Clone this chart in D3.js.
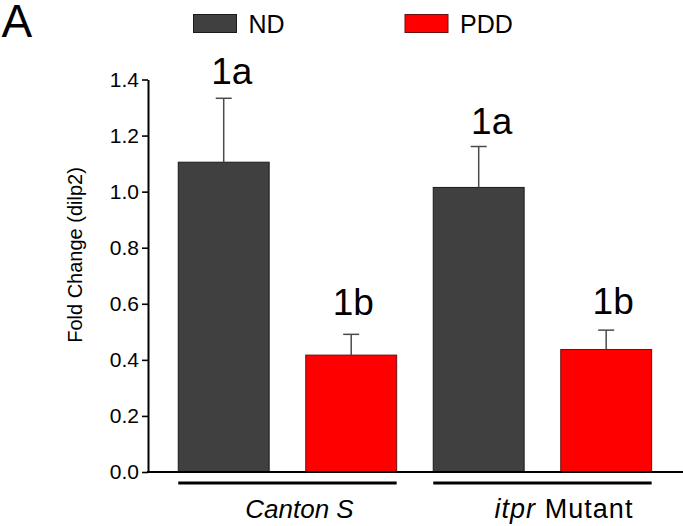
<!DOCTYPE html>
<html><head><meta charset="utf-8">
<script src="https://cdn.jsdelivr.net/npm/d3@7"></script>
<style>
html,body{margin:0;padding:0;background:#fff;}
svg{display:block;font-family:"Liberation Sans",Arial,sans-serif;}
</style></head>
<body>
<svg id="chart" width="683" height="526"></svg>
<script>
// ---- data ----
const groups = ["Canton S", "itpr Mutant"];
const series = ["ND", "PDD"];
const means = [1.105, 0.417, 1.015, 0.437];     // Canton S ND, Canton S PDD, itpr ND, itpr PDD
const errors = [0.228, 0.074, 0.146, 0.069];
const letters = ["1a", "1b", "1a", "1b"];
const yTicks = [0.0, 0.2, 0.4, 0.6, 0.8, 1.0, 1.2, 1.4];
const yTitle = "Fold Change (dilp2)";
const panel = "A";

// ---- styles ----
const colors = {ND: "#404040", PDD: "#ff0000"};
const strokes = {ND: "#1a1a1a", PDD: "#6b1010"};
const letterDx = [8, 2, 13, 7];
const letterDy = [-14, -19, -13, -16];
const groupLabelDx = [12, 21];
const groupLabelLen = [null, 138];

const svg = d3.select("#chart");
const keys = [];
groups.forEach((g, gi) => series.forEach((s, si) => keys.push({g, s, i: gi * 2 + si})));

const x = d3.scaleBand().domain(keys.map(k => k.i)).range([159.9, 670]).paddingInner(0.287).paddingOuter(0.144);
const y = d3.scaleLinear().domain([0, 1.4]).range([472, 79.5]);
const axisX = 148;

// y axis
const ya = svg.append("g").attr("transform", `translate(${axisX},0)`)
  .call(d3.axisLeft(y).tickValues(yTicks).tickFormat(d3.format(".1f")).tickSize(6).tickSizeOuter(0).tickPadding(3));
ya.select(".domain").attr("stroke", "#000").attr("stroke-width", 2);
ya.selectAll(".tick line").attr("stroke", "#000").attr("stroke-width", 1.6);
ya.selectAll(".tick text").attr("font-family", "Liberation Sans, Arial, sans-serif").attr("font-size", 21).attr("fill", "#000");

// y title
svg.append("text").attr("transform", `translate(82,255) rotate(-90)`)
  .attr("text-anchor", "middle").attr("font-size", 20).attr("fill", "#000").text(yTitle);

// bars
svg.append("g").selectAll("rect").data(keys).join("rect")
  .attr("x", d => x(d.i)).attr("width", x.bandwidth())
  .attr("y", d => y(means[d.i])).attr("height", d => y(0) - y(means[d.i]))
  .attr("fill", d => colors[d.s]).attr("stroke", d => strokes[d.s]).attr("stroke-width", 1);

// error bars (upper)
const eb = svg.append("g").attr("stroke", "#4a4a4a").attr("stroke-width", 1.5);
keys.forEach(d => {
  const cx = x(d.i) + x.bandwidth() / 2;
  eb.append("line").attr("x1", cx).attr("x2", cx).attr("y1", y(means[d.i])).attr("y2", y(means[d.i] + errors[d.i]));
  eb.append("line").attr("x1", cx - 8).attr("x2", cx + 8).attr("y1", y(means[d.i] + errors[d.i])).attr("y2", y(means[d.i] + errors[d.i]));
});

// letters
svg.append("g").selectAll("text").data(keys).join("text")
  .attr("x", d => x(d.i) + x.bandwidth() / 2 + letterDx[d.i])
  .attr("y", d => y(means[d.i] + errors[d.i]) + letterDy[d.i])
  .attr("text-anchor", "middle").attr("font-size", 37).attr("fill", "#000")
  .text(d => letters[d.i]);

// x axis line
svg.append("line").attr("x1", axisX - 1).attr("x2", 683).attr("y1", y(0)).attr("y2", y(0))
  .attr("stroke", "#000").attr("stroke-width", 2);

// group lines & labels
groups.forEach((g, gi) => {
  const x0 = x(gi * 2), x1 = x(gi * 2 + 1) + x.bandwidth();
  svg.append("line").attr("x1", x0).attr("x2", x1).attr("y1", 483).attr("y2", 483)
    .attr("stroke", "#000").attr("stroke-width", 3);
  const t = svg.append("text").attr("x", (x0 + x1) / 2 + groupLabelDx[gi]).attr("y", 518)
    .attr("text-anchor", "middle").attr("font-size", gi === 0 ? 26 : 27).attr("fill", "#000");
  if (groupLabelLen[gi]) t.attr("textLength", groupLabelLen[gi]).attr("lengthAdjust", "spacing");
  if (gi === 0) {
    t.append("tspan").attr("font-style", "italic").text(g);
  } else {
    const parts = g.split(" ");
    t.append("tspan").attr("font-style", "italic").text(parts[0]);
    t.append("tspan").text(" " + parts.slice(1).join(" "));
  }
});

// legend
const legX = [193.5, 405];
series.forEach((s, si) => {
  svg.append("rect").attr("x", legX[si]).attr("y", 14.5).attr("width", 43).attr("height", 18)
    .attr("fill", colors[s]).attr("stroke", strokes[s]).attr("stroke-width", 1);
  svg.append("text").attr("x", legX[si] + 55).attr("y", 33).attr("font-size", 25).attr("fill", "#000").text(s);
});

// panel letter
svg.append("text").attr("x", 1.5).attr("y", 36.5).attr("font-size", 46).attr("fill", "#000").text(panel);
</script>
</body></html>
